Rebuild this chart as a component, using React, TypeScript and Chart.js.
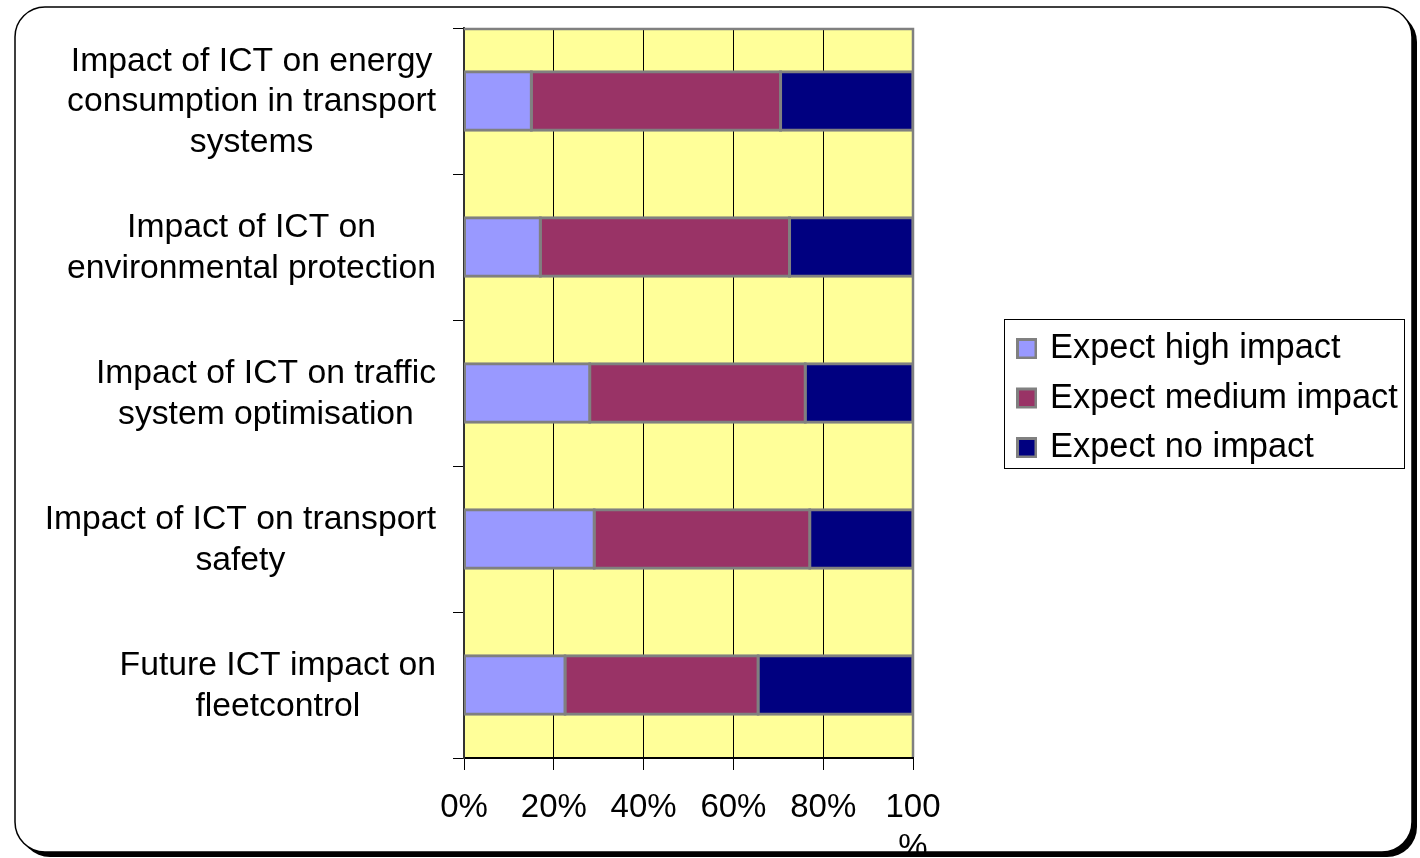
import React, { useEffect, useRef } from 'react';
import { Chart, registerables } from 'chart.js';

Chart.register(...registerables);

const categories: string[][] = [
  ['Impact of ICT on energy', 'consumption in transport', 'systems'],
  ['Impact of ICT on', 'environmental protection'],
  ['Impact of ICT on traffic', 'system optimisation'],
  ['Impact of ICT on transport', 'safety'],
  ['Future ICT impact on', 'fleetcontrol'],
];
const seriesNames = ['Expect high impact', 'Expect medium impact', 'Expect no impact'];
const highImpact = [15, 17, 28, 29, 22.5];
const mediumImpact = [55.5, 55.5, 48, 48, 43];
const noImpact = [29.5, 27.5, 24, 23, 34.5];
const seriesColors = ['#9999FF', '#993366', '#000080'];
const xTickValues = [0, 20, 40, 60, 80, 100];

const W = 1420;
const H = 858;
const FAMILY = '"Liberation Sans", Arial, sans-serif';
const TICK_FONT_SIZE = 33;
const LABEL_FONT_SIZE = 33.7;
const LEGEND_FONT_SIZE = 34.4;

function roundRectPath(ctx: CanvasRenderingContext2D, x: number, y: number, w: number, h: number, r: number) {
  ctx.moveTo(x + r, y);
  ctx.lineTo(x + w - r, y);
  ctx.arcTo(x + w, y, x + w, y + r, r);
  ctx.lineTo(x + w, y + h - r);
  ctx.arcTo(x + w, y + h, x + w - r, y + h, r);
  ctx.lineTo(x + r, y + h);
  ctx.arcTo(x, y + h, x, y + h - r, r);
  ctx.lineTo(x, y + r);
  ctx.arcTo(x, y, x + r, y, r);
  ctx.closePath();
}

const FRAME = { x: 15, y: 7, w: 1397, h: 845, r: 30 };

const decorPlugin = {
  id: 'decor',
  beforeDraw(chart: any) {
    const { ctx, chartArea } = chart;
    ctx.save();
    ctx.fillStyle = '#ffffff';
    ctx.fillRect(0, 0, W, H);
    ctx.fillStyle = '#FFFF99';
    ctx.fillRect(chartArea.left, chartArea.top, chartArea.right - chartArea.left, chartArea.bottom - chartArea.top);
    ctx.restore();
  },
  afterDatasetsDraw(chart: any) {
    const { ctx, chartArea } = chart;
    ctx.save();
    ctx.strokeStyle = '#808080';
    ctx.lineWidth = 2.5;
    ctx.beginPath();
    ctx.moveTo(chartArea.left, chartArea.top + 1);
    ctx.lineTo(chartArea.right, chartArea.top + 1);
    ctx.lineTo(chartArea.right, chartArea.bottom - 1);
    ctx.stroke();
    ctx.restore();
  },
  afterDraw(chart: any) {
    const { ctx } = chart;
    const yScale = chart.scales.y;
    ctx.save();
    // category labels: block right-aligned, lines centred within the block
    ctx.font = `${LABEL_FONT_SIZE}px ${FAMILY}`;
    ctx.fillStyle = '#000';
    ctx.textAlign = 'center';
    ctx.textBaseline = 'middle';
    const lineH = 40.5;
    const rightEdge = yScale.right - 28;
    categories.forEach((lines, i) => {
      const py = yScale.getPixelForValue(i);
      const blockW = Math.max(...lines.map((l) => ctx.measureText(l).width));
      const cx = rightEdge - blockW / 2;
      lines.forEach((l, j) => {
        ctx.fillText(l, cx, py + (j - (lines.length - 1) / 2) * lineH + 1);
      });
    });

    // legend
    const lx = 1004.5, ly = 319.5, lw = 400, lh = 149;
    ctx.strokeStyle = '#000';
    ctx.lineWidth = 1;
    ctx.strokeRect(lx, ly, lw, lh);
    ctx.font = `${LEGEND_FONT_SIZE}px ${FAMILY}`;
    ctx.textAlign = 'left';
    chart.data.datasets.forEach((ds: any, i: number) => {
      const cy = 348 + i * 49.5;
      ctx.fillStyle = '#808080';
      ctx.fillRect(1016, cy - 10, 21, 21);
      ctx.fillStyle = ds.backgroundColor;
      ctx.fillRect(1019, cy - 7, 15.5, 15.5);
      ctx.fillStyle = '#000';
      ctx.fillText(ds.label, 1050, cy + 1);
    });

    // mask outside the frame, shadow, frame
    ctx.beginPath();
    ctx.rect(0, 0, W, H);
    roundRectPath(ctx, FRAME.x, FRAME.y, FRAME.w, FRAME.h, FRAME.r);
    ctx.fillStyle = '#ffffff';
    ctx.fill('evenodd');
    ctx.save();
    ctx.clip('evenodd');
    ctx.beginPath();
    roundRectPath(ctx, FRAME.x + 5, FRAME.y + 5, FRAME.w, FRAME.h, FRAME.r);
    ctx.fillStyle = '#000';
    ctx.fill();
    ctx.restore();
    ctx.beginPath();
    roundRectPath(ctx, FRAME.x, FRAME.y, FRAME.w, FRAME.h, FRAME.r);
    ctx.strokeStyle = '#000';
    ctx.lineWidth = 1.5;
    ctx.stroke();
    ctx.restore();
  },
};

export default function App() {
  const ref = useRef<HTMLCanvasElement | null>(null);
  useEffect(() => {
    if (!ref.current) return;
    const values = [highImpact, mediumImpact, noImpact];
    const chart = new Chart(ref.current, {
      type: 'bar',
      data: {
        labels: categories.map((c) => c.join(' ')),
        datasets: seriesNames.map((name, i) => ({
          label: name,
          data: values[i],
          backgroundColor: seriesColors[i],
          borderColor: '#808080',
          borderWidth: 3,
          borderSkipped: false,
          inflateAmount: 1.5,
          categoryPercentage: 1,
          barPercentage: 0.4,
        })),
      },
      options: {
        indexAxis: 'y',
        responsive: false,
        animation: false,
        layout: { padding: { left: 0, top: 28, right: W - 913, bottom: 0 } },
        plugins: { legend: { display: false }, tooltip: { enabled: false } },
        scales: {
          x: {
            stacked: true,
            min: 0,
            max: 100,
            afterBuildTicks: (s: any) => {
              s.ticks = xTickValues.map((v) => ({ value: v }));
            },
            afterFit: (s: any) => {
              s.height = 100;
            },
            ticks: {
              autoSkip: false,
              maxRotation: 0,
              padding: 18,
              color: '#000',
              font: { family: FAMILY, size: TICK_FONT_SIZE, lineHeight: 1.22 },
              callback: (v: any) => (Number(v) === 100 ? ['100', '%'] : `${v}%`),
            },
            grid: { color: '#000', lineWidth: 1, tickLength: 12 },
            border: { color: '#000', width: 2 },
          },
          y: {
            stacked: true,
            afterFit: (s: any) => {
              s.width = 464;
            },
            ticks: { display: false },
            grid: { drawOnChartArea: false, color: '#000', tickLength: 11, offset: true },
            border: { color: '#333', width: 2 },
          },
        },
      },
      plugins: [decorPlugin],
    } as any);
    return () => chart.destroy();
  }, []);
  return (
    <div style={{ position: 'absolute', left: 0, top: 0, width: W, height: H }}>
      <canvas ref={ref} width={W} height={H} style={{ display: 'block', width: W, height: H }} />
    </div>
  );
}
